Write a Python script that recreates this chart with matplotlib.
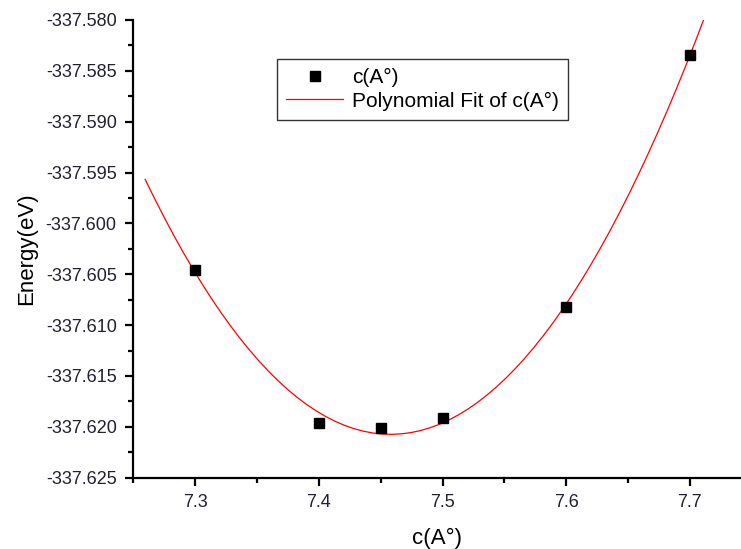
import numpy as np
import matplotlib
matplotlib.use("Agg")
import matplotlib.pyplot as plt
from matplotlib.ticker import MultipleLocator, FormatStrFormatter

plt.rcParams['font.family'] = ['Liberation Sans', 'DejaVu Sans']

c_vals = [7.30, 7.40, 7.45, 7.50, 7.60, 7.70]
energy = [-337.60458, -337.61966, -337.62015, -337.61910, -337.60822, -337.58344]
fit_range = [7.2595, 7.712]
fit_degree = 2

fig = plt.figure(figsize=(7.41, 5.49), dpi=100)
ax = fig.add_axes([0.18, 0.1299, 0.82, 0.8337])

coef = np.polyfit(c_vals, energy, fit_degree)
xf = np.linspace(fit_range[0], fit_range[1], 60)
yf = np.polyval(coef, xf)

ax.plot(c_vals, energy, 's', color='black', markersize=7, label='c(A°)', zorder=3)
ax.plot(xf, yf, '-', color='red', linewidth=0.9, label='Polynomial Fit of c(A°)')

ax.set_xlim(7.25, 7.7413)
ax.set_ylim(-337.625, -337.580)
ax.xaxis.set_major_locator(MultipleLocator(0.1))
ax.xaxis.set_minor_locator(MultipleLocator(0.05))
ax.yaxis.set_major_locator(MultipleLocator(0.005))
ax.yaxis.set_minor_locator(MultipleLocator(0.0025))
ax.yaxis.set_major_formatter(FormatStrFormatter('%.3f'))
ax.xaxis.set_major_formatter(FormatStrFormatter('%.1f'))

for s in ['top', 'right']:
    ax.spines[s].set_visible(False)
for s in ['left', 'bottom']:
    ax.spines[s].set_linewidth(1.6)

ax.tick_params(which='major', direction='out', length=6, width=1.6, labelsize=13, pad=6, colors='black')
ax.tick_params(which='minor', direction='out', length=3.5, width=1.6)
for lbl in ax.get_xticklabels() + ax.get_yticklabels():
    lbl.set_color('#202030')

ax.set_xlabel('c(A°)', fontsize=16, labelpad=12)
ax.set_ylabel('Energy(eV)', fontsize=16, labelpad=6)

leg = ax.legend(loc='upper left', bbox_to_anchor=(277/741, 1 - 59/549), bbox_transform=fig.transFigure,
                fontsize=15, frameon=True, fancybox=False, edgecolor='black', handlelength=2.7,
                borderpad=0.45, labelspacing=0.2, handletextpad=0.45, borderaxespad=0)
leg.get_frame().set_linewidth(1.0)

fig.savefig('out.png', dpi=100)
